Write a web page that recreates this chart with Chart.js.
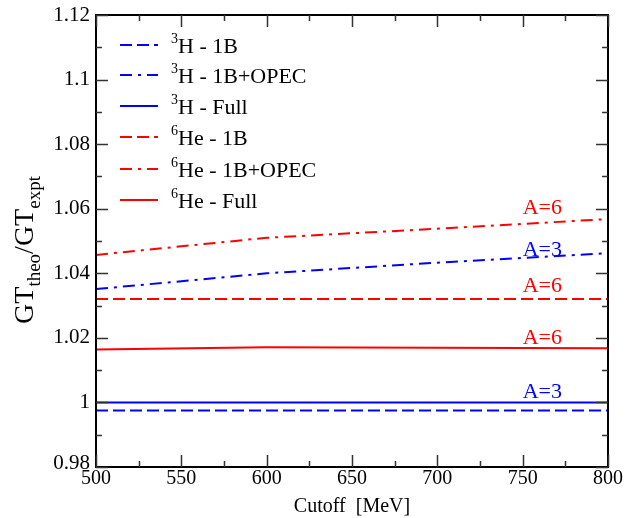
<!DOCTYPE html>
<html>
<head>
<meta charset="utf-8">
<script src="https://cdn.jsdelivr.net/npm/chart.js@4/dist/chart.umd.min.js"></script>
<style>
html,body{margin:0;padding:0;background:#fff;}
#wrap{width:626px;height:518px;}
</style>
</head>
<body>
<div id="wrap"><canvas id="c" width="626" height="518"></canvas></div>
<script>
// ---- data ----
const cutoffs = [500, 600, 700, 800];
const h3_1B = [0.9975, 0.9975, 0.9975, 0.9975];
const h3_OPEC = [1.0351, 1.0400, 1.0433, 1.0462];
const h3_Full = [1.0000, 1.0000, 1.0000, 1.0000];
const he6_1B = [1.0320, 1.0320, 1.0320, 1.0320];
const he6_OPEC = [1.0457, 1.0510, 1.0538, 1.0568];
const he6_Full = [1.0164, 1.0171, 1.0169, 1.0168];
const xTicks = [500, 550, 600, 650, 700, 750, 800];
const yTicks = [0.98, 1.00, 1.02, 1.04, 1.06, 1.08, 1.10, 1.12];
const yTickLabels = ["0.98", "1", "1.02", "1.04", "1.06", "1.08", "1.1", "1.12"];
const annotations = [
  {text: "A=6", x: 750, y: 1.0602, color: "#ff0000"},
  {text: "A=3", x: 750, y: 1.0472, color: "#0000ff"},
  {text: "A=6", x: 750, y: 1.0361, color: "#ff0000"},
  {text: "A=6", x: 750, y: 1.0200, color: "#ff0000"},
  {text: "A=3", x: 750, y: 1.0033, color: "#0000ff"}
];
const legendItems = [
  {sup: "3", text: "H - 1B"},
  {sup: "3", text: "H - 1B+OPEC"},
  {sup: "3", text: "H - Full"},
  {sup: "6", text: "He - 1B"},
  {sup: "6", text: "He - 1B+OPEC"},
  {sup: "6", text: "He - Full"}
];

const BLUE = "#0000ff", RED = "#ff0000";
const DASH = [12, 5], DASHDOT = [12, 6, 3, 6];
const FONT = "'Liberation Serif', 'Times New Roman', serif";

function mk(label, data, color, dash) {
  return {
    label, data: cutoffs.map((x, i) => ({x, y: data[i]})),
    borderColor: color, borderWidth: 2, borderDash: dash,
    pointRadius: 0, fill: false, tension: 0
  };
}
const datasets = [
  mk("3H - 1B", h3_1B, BLUE, DASH),
  mk("3H - 1B+OPEC", h3_OPEC, BLUE, DASHDOT),
  mk("3H - Full", h3_Full, BLUE, []),
  mk("6He - 1B", he6_1B, RED, DASH),
  mk("6He - 1B+OPEC", he6_OPEC, RED, DASHDOT),
  mk("6He - Full", he6_Full, RED, [])
];

const decor = {
  id: "decor",
  afterDatasetsDraw(chart) {
    const ctx = chart.ctx, a = chart.chartArea;
    const xs = chart.scales.x, ys = chart.scales.y;
    ctx.save();
    // frame
    ctx.strokeStyle = "#000"; ctx.lineWidth = 2; ctx.setLineDash([]);
    ctx.strokeRect(a.left, a.top, a.right - a.left, a.bottom - a.top);
    // ticks
    ctx.lineWidth = 1.5;
    ctx.strokeStyle = "#333";
    ctx.beginPath();
    for (let v = 500; v <= 800; v += 25) {
      const px = Math.round(xs.getPixelForValue(v)) + 0.5;
      const L = (v % 50 === 0) ? 12 : 6;
      ctx.moveTo(px, a.bottom); ctx.lineTo(px, a.bottom - L);
      ctx.moveTo(px, a.top); ctx.lineTo(px, a.top + L);
    }
    for (let k = 0; k <= 14; k++) {
      const v = 0.98 + k * 0.01;
      const py = Math.round(ys.getPixelForValue(v)) + 0.5;
      const L = (k % 2 === 0) ? 12 : 6;
      ctx.moveTo(a.left, py); ctx.lineTo(a.left + L, py);
      ctx.moveTo(a.right, py); ctx.lineTo(a.right - L, py);
    }
    ctx.stroke();
    // tick labels
    ctx.fillStyle = "#000";
    ctx.font = "20px " + FONT;
    ctx.textAlign = "center"; ctx.textBaseline = "top";
    xTicks.forEach(v => ctx.fillText(String(v), xs.getPixelForValue(v), a.bottom + 2));
    ctx.font = "21px " + FONT;
    ctx.textAlign = "right"; ctx.textBaseline = "middle";
    yTicks.forEach((v, i) => {
      let py = ys.getPixelForValue(v);
      if (i === 0) py -= 4;
      ctx.fillText(yTickLabels[i], a.left - 6, py);
    });
    // x title
    ctx.textAlign = "center"; ctx.textBaseline = "alphabetic";
    ctx.font = "20px " + FONT;
    ctx.fillText("Cutoff  [MeV]", (a.left + a.right) / 2, 512);
    // y title (rotated)
    ctx.save();
    ctx.translate(33, 250);
    ctx.rotate(-Math.PI / 2);
    const parts = [["GT", 28, 0], ["theo", 19, 7], ["/GT", 28, 0], ["expt", 19, 7]];
    let total = 0;
    parts.forEach(p => { ctx.font = p[1] + "px " + FONT; total += ctx.measureText(p[0]).width; });
    let cx = -total / 2;
    ctx.textAlign = "left";
    parts.forEach(p => { ctx.font = p[1] + "px " + FONT; ctx.fillText(p[0], cx, p[2]); cx += ctx.measureText(p[0]).width; });
    ctx.restore();
    // annotations
    ctx.font = "22px " + FONT;
    ctx.textAlign = "left"; ctx.textBaseline = "middle";
    annotations.forEach(an => {
      ctx.fillStyle = an.color;
      ctx.fillText(an.text, xs.getPixelForValue(an.x), ys.getPixelForValue(an.y));
    });
    // legend
    const rowY = [45, 75, 106, 137, 169, 200];
    chart.data.datasets.forEach((ds, i) => {
      const y = rowY[i];
      ctx.strokeStyle = ds.borderColor; ctx.lineWidth = 2;
      ctx.setLineDash(ds.borderDash);
      ctx.beginPath(); ctx.moveTo(120, y); ctx.lineTo(158, y); ctx.stroke();
      ctx.setLineDash([]);
      ctx.fillStyle = "#000"; ctx.textAlign = "left"; ctx.textBaseline = "alphabetic";
      ctx.font = "14px " + FONT;
      ctx.fillText(legendItems[i].sup, 171, y - 2);
      const w = ctx.measureText(legendItems[i].sup).width;
      ctx.font = "22px " + FONT;
      ctx.fillText(legendItems[i].text, 171 + w, y + 8);
    });
    ctx.restore();
  }
};

new Chart(document.getElementById("c"), {
  type: "line",
  data: {datasets},
  options: {
    responsive: false, animation: false, devicePixelRatio: 1,
    layout: {padding: {left: 96, right: 18, top: 15, bottom: 51}},
    plugins: {legend: {display: false}, tooltip: {enabled: false}},
    scales: {
      x: {type: "linear", min: 500, max: 800, display: false},
      y: {type: "linear", min: 0.98, max: 1.12, display: false}
    }
  },
  plugins: [decor]
});
</script>
</body>
</html>
